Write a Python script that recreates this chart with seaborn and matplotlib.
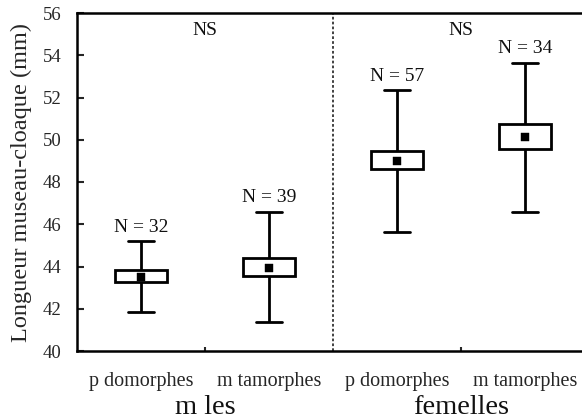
import numpy as np
import pandas as pd
import matplotlib
matplotlib.use("Agg")
import matplotlib.pyplot as plt
import matplotlib.transforms as mtransforms
import seaborn as sns

# Snout-vent length summaries per sex and morph
groups = ["m les", "m les", "femelles", "femelles"]
morphs = ["p domorphes", "m tamorphes", "p domorphes", "m tamorphes"]
whisker_low = [41.85, 41.35, 45.65, 46.6]
box_low = [43.25, 43.55, 48.6, 49.55]
means = [43.5, 43.95, 49.0, 50.15]
box_high = [43.85, 44.4, 49.45, 50.75]
whisker_high = [45.2, 46.6, 52.35, 53.65]
n_sizes = [32, 39, 57, 34]
group_names = ["m les", "femelles"]
test_labels = ["NS", "NS"]
y_ticks = [40, 42, 44, 46, 48, 50, 52, 54, 56]

sns.set_style("white")
plt.rcParams["font.family"] = ["Liberation Serif", "DejaVu Serif"]
plt.rcParams["text.color"] = "#111111"

cats = [f"{g} | {m}" for g, m in zip(groups, morphs)]

# five-number summaries: with whis=(0, 100) the box spans q1..q3 and whiskers span min..max
rows = []
for c, lo, q1, mid, q3, hi in zip(cats, whisker_low, box_low, means, box_high, whisker_high):
    for v in (lo, q1, mid, q3, hi):
        rows.append({"cat": c, "value": v})
df = pd.DataFrame(rows)
mean_df = pd.DataFrame({"cat": cats, "value": means})

fig = plt.figure(figsize=(5.82, 4.20), dpi=100)
ax = fig.add_axes([77 / 582, 69 / 420, 512 / 582, 338 / 420])

sns.boxplot(data=df, x="cat", y="value", order=cats, whis=(0, 100), width=0.4,
            color="white", saturation=1, linecolor="black", linewidth=2.0,
            medianprops=dict(visible=False), ax=ax)

sns.pointplot(data=mean_df, x="cat", y="value", order=cats, errorbar=None,
              linestyle="none", marker="s", color="black", markersize=5.5,
              markeredgewidth=0.3, ax=ax)

# sample sizes above the upper whiskers
for i, (hi, n) in enumerate(zip(whisker_high, n_sizes)):
    ax.text(i, hi + 0.45, f"N = {n}", ha="center", va="baseline", fontsize=14)

# separator between the sexes
ax.axvline(1.5, color="#333333", lw=1.3, ls=(0, (1.5, 1.2)), zorder=0)

# test results and group names
for k, (lab, gname) in enumerate(zip(test_labels, group_names)):
    xc = 0.5 + 2 * k
    ax.text(xc, 54.95, lab, ha="center", va="baseline", fontsize=14)
    trans = mtransforms.blended_transform_factory(ax.transData, ax.transAxes)
    ax.text(xc, -0.186, gname, ha="center", va="baseline", fontsize=20.5,
            transform=trans)

ax.set_xlim(-0.5, 3.5)
ax.set_ylim(40, 56)
ax.set_yticks(y_ticks)
ax.set_yticklabels([str(t) for t in y_ticks])
ax.set_xticks(range(len(cats)))
ax.set_xticklabels(morphs)
ax.set_xticks([0.5, 2.5], minor=True)
ax.set_xlabel("")
ax.set_ylabel("Longueur museau-cloaque (mm)", fontsize=17.5, labelpad=8)

ax.tick_params(axis="y", direction="in", length=5, width=1.5, labelsize=13.5,
               pad=11, left=True)
ax.tick_params(axis="x", which="major", length=0, labelsize=14.5, pad=15)
ax.tick_params(axis="x", which="minor", direction="in", length=3, width=1.5,
               bottom=True)

for side in ("left", "top", "bottom"):
    ax.spines[side].set_visible(True)
    ax.spines[side].set_linewidth(1.8)
    ax.spines[side].set_color("black")
ax.spines["right"].set_visible(False)
ax.grid(False)

fig.savefig("out.png", dpi=100)
